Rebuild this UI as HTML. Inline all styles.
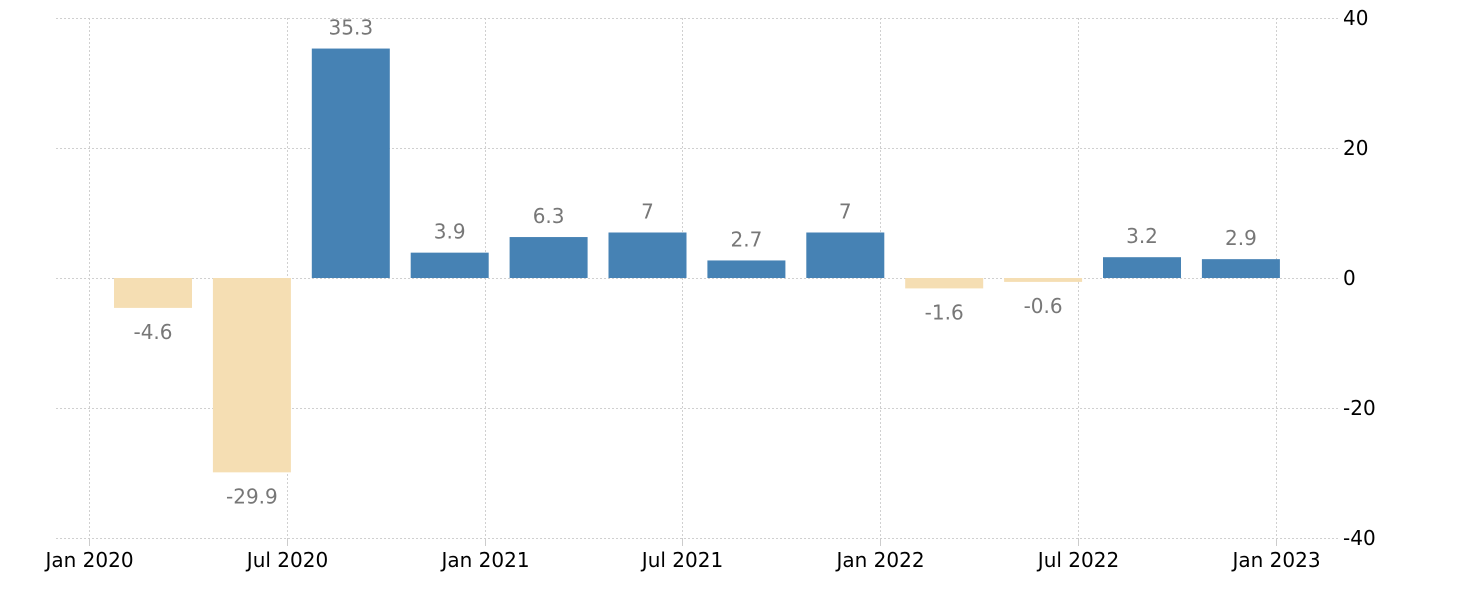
<!DOCTYPE html>
<html><head><meta charset="utf-8"><style>
html,body{margin:0;padding:0;background:#fff;}
svg{display:block;font-family:"DejaVu Sans","Liberation Sans",sans-serif;}
</style></head><body>
<svg id="chart" width="1460" height="600" viewBox="0 0 1460 600" xmlns="http://www.w3.org/2000/svg">
<g id="grid"></g>
<g id="bars"></g>
<g id="labels"></g>
<g id="yaxis"></g>
<g id="xaxis"></g>
</svg>
<script>
const categories = ["Q1 2020","Q2 2020","Q3 2020","Q4 2020","Q1 2021","Q2 2021","Q3 2021","Q4 2021","Q1 2022","Q2 2022","Q3 2022","Q4 2022"];
const values = [-4.6,-29.9,35.3,3.9,6.3,7,2.7,7,-1.6,-0.6,3.2,2.9];
const valueLabels = ["-4.6","-29.9","35.3","3.9","6.3","7","2.7","7","-1.6","-0.6","3.2","2.9"];
const yTicks = [40,20,0,-20,-40];
const xTickLabels = ["Jan 2020","Jul 2020","Jan 2021","Jul 2021","Jan 2022","Jul 2022","Jan 2023"];
const xTickPos = [0,2,4,6,8,10,12]; // in quarter units from Jan 2020

const NS="http://www.w3.org/2000/svg";
function y(v){ return 278 - v*6.5; }
function xq(q){ return 89 + q*98.9; }          // quarter-boundary position
function barCenter(i){ return 153 + i*98.9; }
const bw=78;
function mk(tag,attrs,parent){const e=document.createElementNS(NS,tag);for(const k in attrs)e.setAttribute(k,attrs[k]);parent.appendChild(e);return e;}
const grid=document.getElementById('grid'),bars=document.getElementById('bars'),labels=document.getElementById('labels'),ya=document.getElementById('yaxis'),xa=document.getElementById('xaxis');

yTicks.forEach(t=>{
  const l=mk('line',{x1:56,x2:1338,y1:y(t)+0.5,y2:y(t)+0.5,stroke:'#d0d0d0','stroke-width':1,'stroke-dasharray':'2,2'},grid);
  
  
  const tx=mk('text',{x:1343,y:y(t)+7,'font-size':20,fill:'#000'},ya);
  tx.textContent=t;
  
  
});
xTickPos.forEach((q,i)=>{
  const x=Math.round(xq(q))+0.5;
  const l=mk('line',{x1:x,x2:x,y1:18,y2:538,stroke:'#d0d0d0','stroke-width':1,'stroke-dasharray':'2,2'},grid);
  
  
  const tk=mk('line',{x1:x,x2:x,y1:538,y2:546,stroke:'#ccc','stroke-width':1},xa);
  
  
  const tx=mk('text',{x:x,y:567,'font-size':20,fill:'#000','text-anchor':'middle'},xa);
  tx.textContent=xTickLabels[i];
  
  
});
values.forEach((v,i)=>{
  const cx=barCenter(i);
  const top=Math.min(y(v),y(0)), h=Math.abs(y(v)-y(0));
  const r=mk('rect',{x:cx-bw/2,y:top,width:bw,height:Math.max(h,1),fill:v>=0?'#4682b4':'#f5deb3'},bars);
  
  
  const ly = v>=0 ? y(v)-14 : y(v)+31;
  const t=mk('text',{x:cx,y:ly,'font-size':20,fill:'#777','text-anchor':'middle'},labels);
  t.textContent=valueLabels[i];
  
  
});
</script>
</body></html>
